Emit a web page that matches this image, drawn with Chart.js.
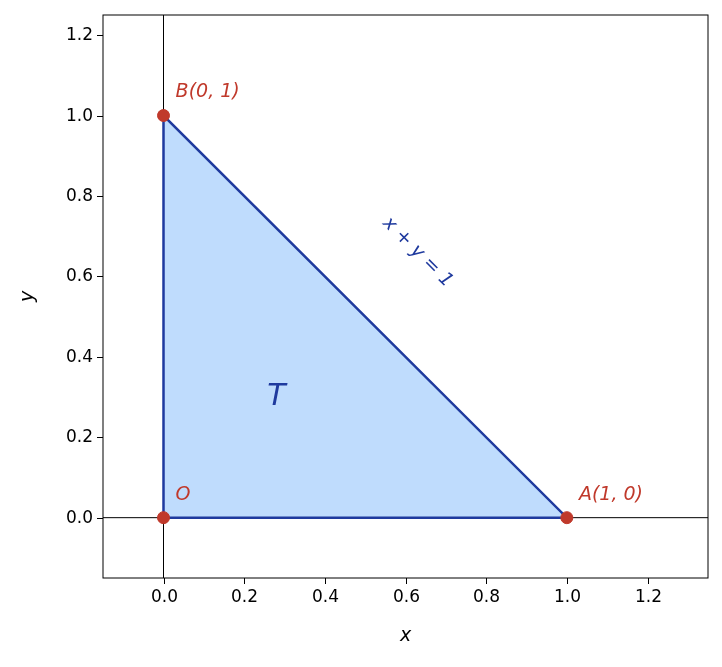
<!DOCTYPE html>
<html><head><meta charset="utf-8">
<script src="https://cdn.jsdelivr.net/npm/chart.js@4"></script>
<style>html,body{margin:0;padding:0;background:#fff}#w{width:722px;height:667px}</style>
</head><body><div id="w"><canvas id="c"></canvas></div>
<script>
const triangleX = [0, 1, 0, 0];
const triangleY = [0, 0, 1, 0];
const pointX = [0, 1, 0];
const pointY = [0, 0, 1];
const tickValues = [0, 0.2, 0.4, 0.6, 0.8, 1.0, 1.2];
const labels = [
  {text: 'B(0, 1)', x: 0.03, y: 1.045, color: '#c0392b', size: 19, italic: true, align: 'left'},
  {text: 'O', x: 0.03, y: 0.045, color: '#c0392b', size: 19, italic: true, align: 'left'},
  {text: 'A(1, 0)', x: 1.03, y: 0.045, color: '#c0392b', size: 19, italic: true, align: 'left'},
  {text: 'T', x: 0.28, y: 0.28, color: '#1f3a9e', size: 30, italic: true, align: 'center'},
  {text: 'x + y = 1', x: 0.63, y: 0.66, color: '#1f3a9e', size: 19, italic: true, align: 'center', rot: 45}
];
const RED = '#c0392b', BLUE = '#1f3a9e', FILL = '#bfdcfd';
const font = 'DejaVu Sans';

const overlay = {
  id: 'overlay',
  beforeDatasetsDraw(ch) {
    const {ctx, chartArea: a, scales: {x, y}} = ch;
    ctx.save();
    const pts = ch.getDatasetMeta(0).data;
    ctx.fillStyle = FILL;
    ctx.beginPath();
    pts.forEach((p, i) => i ? ctx.lineTo(p.x, p.y) : ctx.moveTo(p.x, p.y));
    ctx.closePath(); ctx.fill();
    ctx.strokeStyle = '#000'; ctx.lineWidth = 1;
    ctx.beginPath();
    ctx.moveTo(x.getPixelForValue(0), a.top); ctx.lineTo(x.getPixelForValue(0), a.bottom);
    ctx.moveTo(a.left, y.getPixelForValue(0)); ctx.lineTo(a.right, y.getPixelForValue(0));
    ctx.stroke();
    ctx.restore();
  },
  afterDraw(ch) {
    const {ctx, chartArea: a, scales: {x, y}} = ch;
    ctx.save();
    ctx.strokeStyle = '#000'; ctx.lineWidth = 1;
    ctx.strokeRect(a.left, a.top, a.right - a.left, a.bottom - a.top);
    ctx.fillStyle = '#000';
    ctx.font = '17px ' + font;
    ctx.beginPath();
    for (const v of tickValues) {
      const px = Math.round(x.getPixelForValue(v)) + 0.5, py = Math.round(y.getPixelForValue(v)) + 0.5;
      ctx.moveTo(px, a.bottom); ctx.lineTo(px, a.bottom + 6);
      ctx.moveTo(a.left, py); ctx.lineTo(a.left - 6, py);
      ctx.textAlign = 'center'; ctx.textBaseline = 'top';
      ctx.fillText(v.toFixed(1), px, a.bottom + 11);
      ctx.textAlign = 'right'; ctx.textBaseline = 'middle';
      ctx.fillText(v.toFixed(1), a.left - 10, py);
    }
    ctx.stroke();
    ctx.font = 'italic 19px ' + font;
    ctx.textAlign = 'center'; ctx.textBaseline = 'middle';
    ctx.fillText('x', (a.left + a.right) / 2, 636);
    ctx.save(); ctx.translate(28, (a.top + a.bottom) / 2); ctx.rotate(-Math.PI / 2);
    ctx.fillText('y', 0, 0); ctx.restore();
    for (const l of labels) {
      ctx.save();
      ctx.translate(x.getPixelForValue(l.x), y.getPixelForValue(l.y));
      if (l.rot) ctx.rotate(l.rot * Math.PI / 180);
      ctx.font = (l.italic ? 'italic ' : '') + l.size + 'px ' + font;
      ctx.fillStyle = l.color; ctx.textAlign = l.align;
      ctx.textBaseline = l.rot ? 'middle' : 'alphabetic';
      ctx.fillText(l.text, 0, 0);
      ctx.restore();
    }
    ctx.restore();
  }
};

new Chart(document.getElementById('c'), {
  type: 'scatter',
  data: {datasets: [
    {data: triangleX.map((v, i) => ({x: v, y: triangleY[i]})), showLine: true,
     borderColor: BLUE, borderWidth: 2.5, fill: false, pointRadius: 0, order: 2},
    {data: pointX.map((v, i) => ({x: v, y: pointY[i]})), pointRadius: 6,
     pointBackgroundColor: RED, pointBorderColor: RED, order: 1}
  ]},
  options: {
    responsive: true, maintainAspectRatio: false, animation: false,
    layout: {padding: {top: 15, right: 14, left: 0, bottom: 0}},
    plugins: {legend: {display: false}, tooltip: {enabled: false}},
    scales: {
      x: {min: -0.15, max: 1.35,
        afterBuildTicks: s => { s.ticks = tickValues.map(v => ({value: v})); },
        afterFit: s => { s.height = 89; },
        grid: {display: false}, border: {display: false}, ticks: {display: false}},
      y: {min: -0.15, max: 1.25,
        afterBuildTicks: s => { s.ticks = tickValues.map(v => ({value: v})); },
        afterFit: s => { s.width = 103; },
        grid: {display: false}, border: {display: false}, ticks: {display: false}}
    }
  },
  plugins: [overlay]
});
</script></body></html>
